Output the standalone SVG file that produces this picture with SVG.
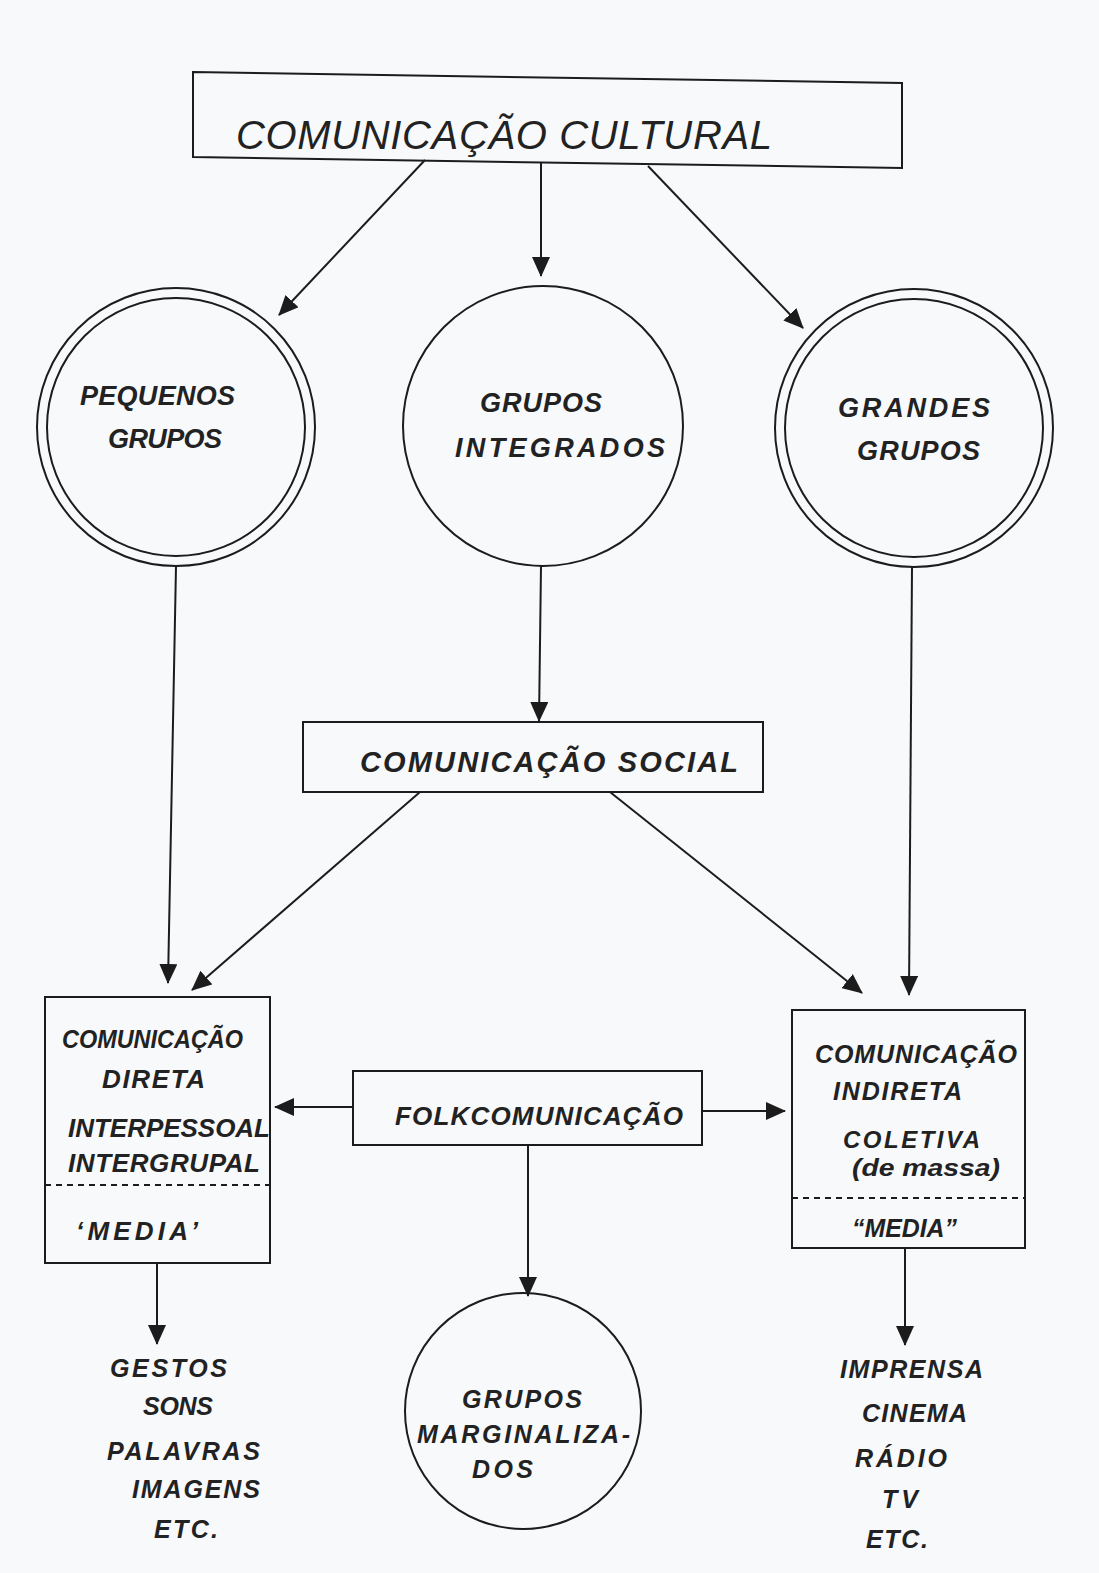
<svg xmlns="http://www.w3.org/2000/svg" width="1099" height="1573" viewBox="0 0 1099 1573">
<defs>
<marker id="ah" markerWidth="20" markerHeight="18" refX="19" refY="9" orient="auto" markerUnits="userSpaceOnUse">
<path d="M0,0 L20,9 L0,18 Z" fill="#1c1c1c"/>
</marker>
<style>
.bx{fill:none;stroke:#1c1c1c;stroke-width:2}
.ln{fill:none;stroke:#1c1c1c;stroke-width:2;marker-end:url(#ah)}
.dash{fill:none;stroke:#1c1c1c;stroke-width:2;stroke-dasharray:6 5}
.t{font-family:"Liberation Sans",Arial,sans-serif;font-weight:bold;font-style:italic;fill:#222}
.tl{font-family:"Liberation Sans",Arial,sans-serif;font-weight:normal;font-style:italic;fill:#222}
</style>
</defs>
<rect x="0" y="0" width="1099" height="1573" fill="#f7f9fb"/>

<g id="connectors">
<line class="ln" x1="425" y1="160" x2="279" y2="315"/>
<line class="ln" x1="541" y1="163" x2="541" y2="276"/>
<line class="ln" x1="648" y1="166" x2="803" y2="328"/>
<line class="ln" x1="176" y1="566" x2="168" y2="983"/>
<line class="ln" x1="541" y1="566" x2="539" y2="721"/>
<line class="ln" x1="912" y1="567" x2="909" y2="995"/>
<line class="ln" x1="420" y1="792" x2="192" y2="990"/>
<line class="ln" x1="610" y1="792" x2="862" y2="993"/>
<line class="ln" x1="353" y1="1107" x2="275" y2="1107"/>
<line class="ln" x1="702" y1="1111" x2="785" y2="1111"/>
<line class="ln" x1="528" y1="1145" x2="528" y2="1296"/>
<line class="ln" x1="157" y1="1263" x2="157" y2="1344"/>
<line class="ln" x1="905" y1="1248" x2="905" y2="1345"/>
</g>

<g id="comunicacao-cultural">
<polygon class="bx" points="193,72 902,83 902,168 193,157"/>
<text class="tl" x="236" y="149" font-size="40" textLength="536" lengthAdjust="spacing">COMUNICAÇÃO  CULTURAL</text>
</g>

<g id="pequenos-grupos">
<circle class="bx" cx="176" cy="427" r="139"/>
<circle class="bx" cx="176" cy="427" r="129"/>
<text class="t" x="80" y="405" font-size="27" textLength="155" lengthAdjust="spacing">PEQUENOS</text>
<text class="t" x="108" y="448" font-size="27" textLength="114" lengthAdjust="spacing">GRUPOS</text>
</g>

<g id="grupos-integrados">
<circle class="bx" cx="543" cy="426" r="140"/>
<text class="t" x="480" y="412" font-size="27" textLength="122" lengthAdjust="spacing">GRUPOS</text>
<text class="t" x="455" y="457" font-size="27" textLength="210" lengthAdjust="spacing">INTEGRADOS</text>
</g>

<g id="grandes-grupos">
<circle class="bx" cx="914" cy="428" r="139"/>
<circle class="bx" cx="914" cy="428" r="129"/>
<text class="t" x="838" y="417" font-size="27" textLength="152" lengthAdjust="spacing">GRANDES</text>
<text class="t" x="857" y="460" font-size="27" textLength="123" lengthAdjust="spacing">GRUPOS</text>
</g>

<g id="comunicacao-social">
<rect class="bx" x="303" y="722" width="460" height="70"/>
<text class="t" x="360" y="772" font-size="29" textLength="378" lengthAdjust="spacing">COMUNICAÇÃO  SOCIAL</text>
</g>

<g id="comunicacao-direta">
<rect class="bx" x="45" y="997" width="225" height="266"/>
<line class="dash" x1="45" y1="1185" x2="270" y2="1185"/>
<text class="t" x="62" y="1048" font-size="26" textLength="181" lengthAdjust="spacingAndGlyphs">COMUNICAÇÃO</text>
<text class="t" x="102" y="1088" font-size="26" textLength="103" lengthAdjust="spacing">DIRETA</text>
<text class="t" x="68" y="1137" font-size="26" textLength="202" lengthAdjust="spacing">INTERPESSOAL</text>
<text class="t" x="68" y="1172" font-size="26" textLength="192" lengthAdjust="spacing">INTERGRUPAL</text>
<text class="t" x="76" y="1240" font-size="26" textLength="122" lengthAdjust="spacing">‘MEDIA’</text>
</g>

<g id="folkcomunicacao">
<rect class="bx" x="353" y="1071" width="349" height="74"/>
<text class="t" x="395" y="1125" font-size="26" textLength="288" lengthAdjust="spacing">FOLKCOMUNICAÇÃO</text>
</g>

<g id="comunicacao-indireta">
<rect class="bx" x="792" y="1010" width="233" height="238"/>
<line class="dash" x1="792" y1="1198" x2="1025" y2="1198"/>
<text class="t" x="815" y="1063" font-size="25" textLength="202" lengthAdjust="spacing">COMUNICAÇÃO</text>
<text class="t" x="833" y="1100" font-size="25" textLength="129" lengthAdjust="spacing">INDIRETA</text>
<text class="t" x="843" y="1148" font-size="24" textLength="137" lengthAdjust="spacing">COLETIVA</text>
<text class="t" x="852" y="1176" font-size="23" textLength="148" lengthAdjust="spacingAndGlyphs">(de massa)</text>
<text class="t" x="852" y="1237" font-size="26" textLength="105" lengthAdjust="spacingAndGlyphs">“MEDIA”</text>
</g>

<g id="grupos-marginalizados">
<circle class="bx" cx="523" cy="1411" r="118"/>
<text class="t" x="462" y="1408" font-size="25" textLength="120" lengthAdjust="spacing">GRUPOS</text>
<text class="t" x="417" y="1443" font-size="25" textLength="213" lengthAdjust="spacing">MARGINALIZA-</text>
<text class="t" x="472" y="1478" font-size="25" textLength="61" lengthAdjust="spacing">DOS</text>
</g>

<g id="lista-direta">
<text class="t" x="110" y="1377" font-size="25" textLength="117" lengthAdjust="spacing">GESTOS</text>
<text class="t" x="143" y="1415" font-size="25" textLength="70" lengthAdjust="spacing">SONS</text>
<text class="t" x="107" y="1460" font-size="25" textLength="153" lengthAdjust="spacing">PALAVRAS</text>
<text class="t" x="132" y="1498" font-size="25" textLength="128" lengthAdjust="spacing">IMAGENS</text>
<text class="t" x="154" y="1538" font-size="25" textLength="64" lengthAdjust="spacing">ETC.</text>
</g>

<g id="lista-indireta">
<text class="t" x="840" y="1378" font-size="25" textLength="143" lengthAdjust="spacing">IMPRENSA</text>
<text class="t" x="862" y="1422" font-size="25" textLength="105" lengthAdjust="spacing">CINEMA</text>
<text class="t" x="855" y="1467" font-size="25" textLength="92" lengthAdjust="spacing">RÁDIO</text>
<text class="t" x="882" y="1508" font-size="25" textLength="36" lengthAdjust="spacing">TV</text>
<text class="t" x="866" y="1548" font-size="25" textLength="62" lengthAdjust="spacing">ETC.</text>
</g>
</svg>
